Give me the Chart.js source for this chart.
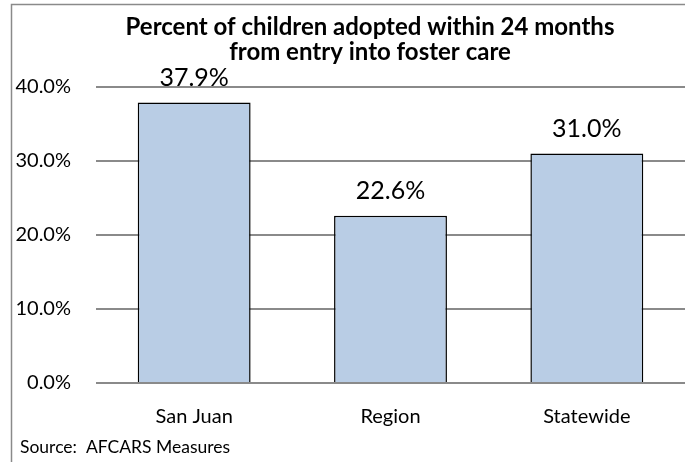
<!DOCTYPE html>
<html>
<head>
<meta charset="utf-8">
<script src="https://cdn.jsdelivr.net/npm/chart.js@4.4.1/dist/chart.umd.min.js"></script>
<style>
    html, body { margin: 0; padding: 0; background: #fff; }
    #wrap { position: relative; width: 690px; height: 472px; }
</style>
</head>
<body>
<div id="wrap"><canvas id="chart"></canvas></div>
<script>
'use strict';

const categories = ['San Juan', 'Region', 'Statewide'];
const percentValues = [37.9, 22.6, 31.0];
const yTickValues = [0, 10, 20, 30, 40];
const titleLines = ['Percent of children adopted within 24 months', 'from entry into foster care'];
const sourceNote = 'Source:  AFCARS Measures';

const FONT = 'Lato, "Open Sans", sans-serif';
const GRID_GRAY = '#8a8a8a';

function pct(v) {
    return Number(v).toFixed(1) + '%';
}

// frame (only top + left show in the crop), title, source line, value labels
const decorPlugin = {
    id: 'decor',
    beforeDraw(chart) {
        const ctx = chart.ctx;
        ctx.save();
        ctx.strokeStyle = GRID_GRAY;
        ctx.lineWidth = 1.5;
        ctx.beginPath();
        ctx.moveTo(11.5, 462);
        ctx.lineTo(11.5, 4.5);
        ctx.lineTo(685, 4.5);
        ctx.stroke();
        ctx.restore();
    },
    afterDatasetsDraw(chart) {
        const ctx = chart.ctx;
        const meta = chart.getDatasetMeta(0);
        ctx.save();
        ctx.fillStyle = '#000';
        ctx.font = '25px ' + FONT;
        ctx.textAlign = 'center';
        ctx.textBaseline = 'alphabetic';
        meta.data.forEach((bar, i) => {
            ctx.fillText(pct(percentValues[i]), bar.x, bar.y - 17);
        });
        ctx.restore();
    },
    afterDraw(chart) {
        const ctx = chart.ctx;
        ctx.save();
        ctx.fillStyle = '#000';
        ctx.textAlign = 'center';
        ctx.textBaseline = 'alphabetic';
        ctx.font = 'bold 24px ' + FONT;
        ctx.fillText(titleLines[0], 370, 35);
        ctx.fillText(titleLines[1], 370, 60);

        ctx.textAlign = 'left';
        ctx.textBaseline = 'middle';
        ctx.font = '17.5px ' + FONT;
        ctx.fillText(sourceNote, 20, 447);
        ctx.restore();
    }
};

const ctx = document.getElementById('chart').getContext('2d');

new Chart(ctx, {
    type: 'bar',
    data: {
        labels: categories,
        datasets: [{
            data: percentValues,
            backgroundColor: '#b9cde5',
            borderColor: '#000',
            borderWidth: 1.5,
            categoryPercentage: 1,
            barPercentage: 0.575,
        }]
    },
    options: {
        responsive: true,
        maintainAspectRatio: false,
        animation: false,
        layout: { padding: { top: 87, right: 5, left: 0, bottom: 0 } },
        plugins: {
            legend: { display: false },
            tooltip: { enabled: false },
            title: { display: false }
        },
        scales: {
            x: {
                grid: { display: false, drawTicks: false },
                border: { display: false },
                ticks: {
                    color: '#000',
                    font: { family: FONT, size: 20 },
                    padding: 22,
                },
                afterFit: scale => { scale.height = 89; }
            },
            y: {
                min: 0,
                max: 40,
                afterBuildTicks: scale => {
                    scale.ticks = yTickValues.map(v => ({ value: v }));
                },
                grid: {
                    color: GRID_GRAY,
                    lineWidth: 2,
                    drawTicks: false,
                },
                border: { display: false },
                ticks: {
                    color: '#000',
                    font: { family: FONT, size: 20 },
                    padding: 25,
                    callback: v => pct(v)
                },
                afterFit: scale => { scale.width = 96; }
            }
        }
    },
    plugins: [decorPlugin]
});
</script>
</body>
</html>
